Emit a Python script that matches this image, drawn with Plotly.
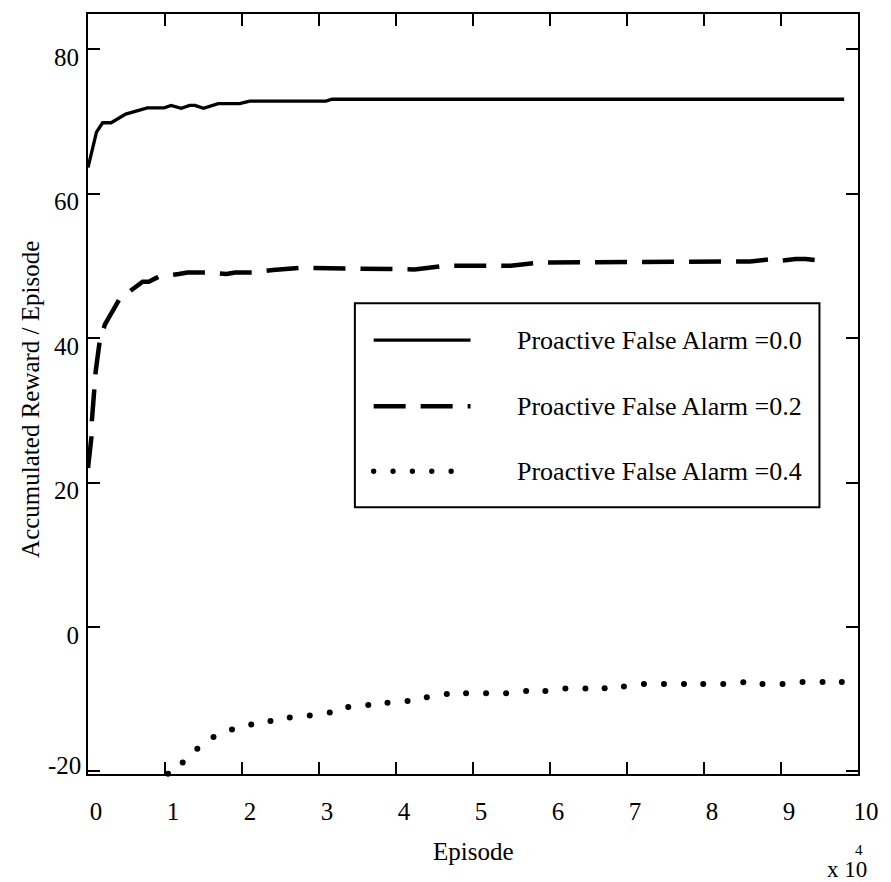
import plotly.graph_objects as go

# ---------------- data (x in units of 10^4 episodes) ----------------
x_fa00 = [0.0, 0.11, 0.19, 0.30, 0.49, 0.64, 0.77, 0.99, 1.08, 1.21, 1.32, 1.39, 1.50,
          1.69, 1.97, 2.10, 3.09, 3.17, 9.82]
y_fa00 = [63.6, 68.5, 69.8, 69.8, 71.0, 71.4, 71.85, 71.85, 72.2, 71.8, 72.2, 72.2, 71.8,
          72.45, 72.45, 72.8, 72.8, 73.05, 73.05]

x_fa02 = [0.0, 0.044, 0.05, 0.08, 0.10, 0.15, 0.22, 0.41, 0.60, 0.71, 0.79, 0.92, 1.18,
          1.29, 1.54, 1.80, 1.91, 2.14, 2.40, 2.76, 4.24, 4.63, 5.49, 5.87, 8.60, 8.86,
          8.99, 9.19, 9.32, 9.50, 9.60]
y_fa02 = [22.0, 26.2, 28.5, 32.6, 35.4, 39.4, 41.9, 45.4, 46.9, 47.8, 47.8, 48.5, 48.85,
          49.07, 49.07, 48.85, 49.07, 49.07, 49.4, 49.7, 49.5, 50.0, 50.0, 50.45, 50.6, 50.9,
          50.7, 50.95, 50.95, 50.7, 50.85]

x_fa04 = [1.04, 1.23, 1.42, 1.63, 1.87, 2.12, 2.37, 2.62, 2.88, 3.14, 3.38, 3.64, 3.89,
          4.15, 4.40, 4.66, 4.91, 5.17, 5.43, 5.69, 5.94, 6.20, 6.46, 6.71, 6.96, 7.22,
          7.48, 7.74, 7.99, 8.25, 8.51, 8.76, 9.02, 9.28, 9.54, 9.79]
y_fa04 = [-20.3, -18.75, -16.85, -15.24, -14.2, -13.5, -13.0, -12.54, -12.26, -11.85,
          -11.07, -10.8, -10.5, -10.24, -9.72, -9.26, -9.17, -9.17, -9.17, -8.85, -8.85,
          -8.51, -8.51, -8.47, -8.24, -7.88, -7.88, -7.88, -7.88, -7.88, -7.64, -7.88,
          -7.88, -7.6, -7.6, -7.6]

x_ticks = [0, 1, 2, 3, 4, 5, 6, 7, 8, 9, 10]
y_ticks = [-20, 0, 20, 40, 60, 80]
legend_labels = ["Proactive False Alarm =0.0", "Proactive False Alarm =0.2",
                 "Proactive False Alarm =0.4"]

# ---------------- layout geometry ----------------
W, H = 891, 882
Y_LO, Y_HI = -20.35, 84.85
PX_PER_Y = 7.22
L, R, T = 88, 867, 14
B = T + (Y_HI - Y_LO) * PX_PER_Y          # bottom edge of the plot area (px)
Y0_PX = T + (Y_HI - (-20)) * PX_PER_Y     # pixel row of y=-20
FONT = "Liberation Serif, Times New Roman, DejaVu Serif, serif"


def px_x(px):
    return (px - L) / (R - L)


def px_y(py):
    return (B - py) / (B - T)


fig = go.Figure()
fig.add_trace(go.Scatter(x=x_fa00, y=y_fa00, mode="lines",
                         line=dict(color="black", width=3.3), showlegend=False))
fig.add_trace(go.Scatter(x=x_fa02, y=y_fa02, mode="lines",
                         line=dict(color="black", width=4.5, dash="32px,15px"),
                         showlegend=False))
fig.add_trace(go.Scatter(x=x_fa04, y=y_fa04, mode="markers",
                         marker=dict(color="black", size=6), cliponaxis=False,
                         showlegend=False))

axis_common = dict(showline=True, linewidth=2, linecolor="black", mirror="allticks",
                   ticks="inside", ticklen=12, tickwidth=2, tickcolor="black",
                   showgrid=False, zeroline=False,
                   tickfont=dict(family=FONT, size=25, color="black"))

fig.update_xaxes(range=[0, 10], tickvals=x_ticks, ticktext=[str(v) for v in x_ticks],
                 ticklabelstandoff=14, ticklabelshift=8, **axis_common)
fig.update_yaxes(range=[Y_LO, Y_HI], tickvals=y_ticks,
                 ticktext=["" if v == -20 else str(v) for v in y_ticks],
                 ticklabelshift=8, ticklabelstandoff=2, **axis_common)

shapes = []
annotations = []

# "-20" label sits slightly above its tick in the reference
annotations.append(dict(text="-20", xref="paper", yref="paper", x=px_x(83), y=px_y(765),
                        xanchor="right", yanchor="middle", showarrow=False,
                        font=dict(family=FONT, size=25, color="black")))

# legend box
lx0, ly0, lx1, ly1 = 358, 303, 828, 507
shapes.append(dict(type="rect", xref="paper", yref="paper",
                   x0=px_x(lx0), x1=px_x(lx1), y0=px_y(ly1), y1=px_y(ly0),
                   line=dict(color="black", width=2), fillcolor="white", layer="above"))
rows = [340, 406, 471]
sx0, sx1, tx = 377, 475, 520
shapes.append(dict(type="line", xref="paper", yref="paper",
                   x0=px_x(sx0), x1=px_x(sx1), y0=px_y(rows[0]), y1=px_y(rows[0]),
                   line=dict(color="black", width=3.3), layer="above"))
shapes.append(dict(type="line", xref="paper", yref="paper",
                   x0=px_x(sx0), x1=px_x(sx1), y0=px_y(rows[1]), y1=px_y(rows[1]),
                   line=dict(color="black", width=4.5, dash="32px,15px"), layer="above"))
for i in range(5):
    cx = sx0 + i * 19.6
    shapes.append(dict(type="circle", xref="paper", yref="paper",
                       x0=px_x(cx - 2.7), x1=px_x(cx + 2.7),
                       y0=px_y(rows[2] + 2.7), y1=px_y(rows[2] - 2.7),
                       line=dict(width=0), fillcolor="black", layer="above"))
for lab, ry in zip(legend_labels, rows):
    annotations.append(dict(text=lab, xref="paper", yref="paper", x=px_x(tx), y=px_y(ry),
                            xanchor="left", yanchor="middle", showarrow=False,
                            font=dict(family=FONT, size=26, color="black")))

# axis titles
annotations.append(dict(text="Episode", xref="paper", yref="paper",
                        x=px_x(478), y=px_y(851), xanchor="center", yanchor="middle",
                        showarrow=False, font=dict(family=FONT, size=25, color="black")))
annotations.append(dict(text="Accumulated Reward / Episode", xref="paper", yref="paper",
                        x=px_x(30), y=px_y(399), xanchor="center", yanchor="middle",
                        textangle=-90, showarrow=False,
                        font=dict(family=FONT, size=25, color="black")))
annotations.append(dict(text="x 10", xref="paper", yref="paper",
                        x=px_x(878), y=px_y(869), xanchor="right", yanchor="middle",
                        showarrow=False, font=dict(family=FONT, size=23, color="black")))
annotations.append(dict(text="4", xref="paper", yref="paper",
                        x=px_x(868), y=px_y(849), xanchor="center", yanchor="middle",
                        showarrow=False, font=dict(family=FONT, size=15, color="black")))

fig.update_layout(width=W, height=H, margin=dict(l=L, r=W - R, t=T, b=H - B),
                  plot_bgcolor="white", paper_bgcolor="white",
                  shapes=shapes, annotations=annotations, showlegend=False)

fig.write_html("out.html")
